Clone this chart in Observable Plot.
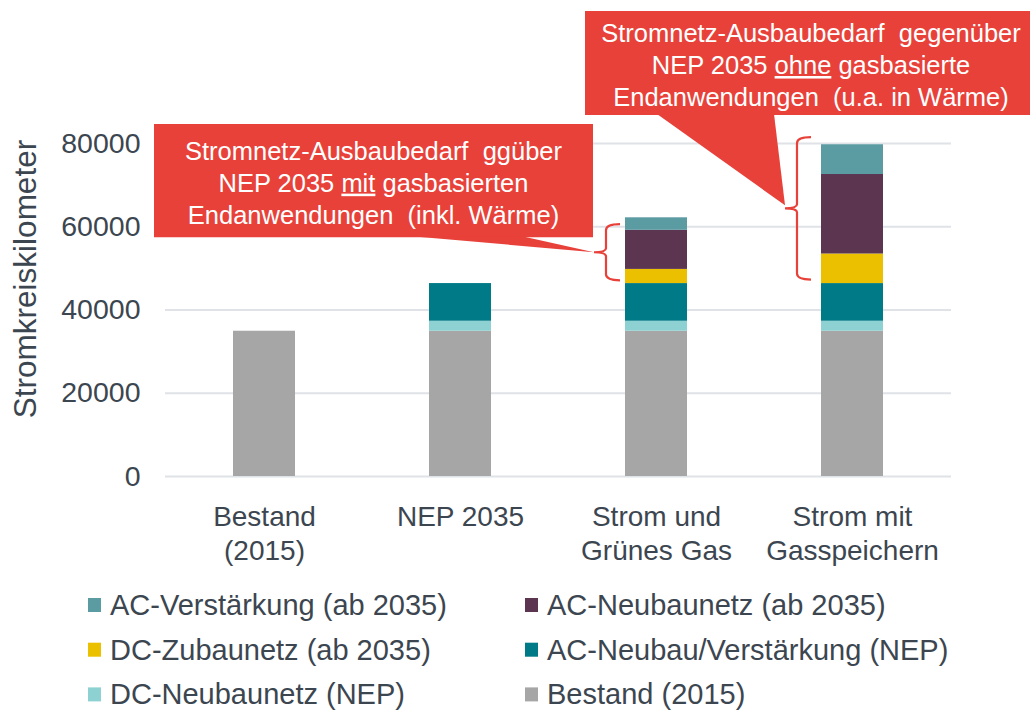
<!DOCTYPE html>
<html><head><meta charset="utf-8">
<script src="https://cdn.jsdelivr.net/npm/d3@7"></script>
<script src="https://cdn.jsdelivr.net/npm/@observablehq/plot@0.6"></script>
<style>
html,body{margin:0;padding:0;background:#fff;}
svg{display:block;}
</style></head><body><div id="chart"></div>
<script>
// ---- data ----
const categories = ["Bestand (2015)", "NEP 2035", "Strom und Grünes Gas", "Strom mit Gasspeichern"];
const categoryLabels = ["Bestand\n(2015)", "NEP 2035", "Strom und\nGrünes Gas", "Strom mit\nGasspeichern"];
const seriesNames = ["Bestand (2015)", "DC-Neubaunetz (NEP)", "AC-Neubau/Verstärkung (NEP)", "DC-Zubaunetz (ab 2035)", "AC-Neubaunetz (ab 2035)", "AC-Verstärkung (ab 2035)"];
const seriesColors = ["#a6a6a6", "#8dd1d2", "#007a86", "#ebc000", "#5c3551", "#5b9ba2"];
const bestand2015 = [34900, 34900, 34900, 34900];
const dcNeubaunetzNEP = [0, 2400, 2400, 2400];
const acNeubauVerstNEP = [0, 9050, 9050, 9050];
const dcZubaunetz2035 = [0, 0, 3400, 7100];
const acNeubaunetz2035 = [0, 0, 9400, 19100];
const acVerstaerkung2035 = [0, 0, 3000, 7150];
const seriesValues = [bestand2015, dcNeubaunetzNEP, acNeubauVerstNEP, dcZubaunetz2035, acNeubaunetz2035, acVerstaerkung2035];
const yTicks = [0, 20000, 40000, 60000, 80000];
const yLabel = "Stromkreiskilometer";
const legendOrder = ["AC-Verstärkung (ab 2035)", "AC-Neubaunetz (ab 2035)", "DC-Zubaunetz (ab 2035)", "AC-Neubau/Verstärkung (NEP)", "DC-Neubaunetz (NEP)", "Bestand (2015)"];
const braceCategories = ["Strom und Grünes Gas", "Strom mit Gasspeichern"];
const braceLow = [47000, 47200];
const braceHigh = [60500, 81400];
const callout1Lines = [
  [{t: "Stromnetz-Ausbaubedarf  ggüber"}],
  [{t: "NEP 2035 "}, {t: "mit", u: true}, {t: " gasbasierten"}],
  [{t: "Endanwendungen  (inkl. Wärme)"}]
];
const callout2Lines = [
  [{t: "Stromnetz-Ausbaubedarf  gegenüber"}],
  [{t: "NEP 2035 "}, {t: "ohne", u: true}, {t: " gasbasierte"}],
  [{t: "Endanwendungen  (u.a. in Wärme)"}]
];

const data = [];
categories.forEach((c, i) => seriesNames.forEach((s, j) => data.push({category: c, series: s, value: seriesValues[j][i]})));

const textColor = "#3c4650";
const red = "#e8413a";
const font = "'Liberation Sans', Arial, sans-serif";

function addLines(g, lines, cx, cy) {
  lines.forEach((segs, i) => {
    const t = g.append("text")
      .attr("x", cx).attr("y", cy + 11 + (i - 1) * 32)
      .attr("text-anchor", "middle")
      .attr("fill", "#fff")
      .attr("font-size", 25.5)
      .attr("font-family", font)
      .style("white-space", "pre");
    segs.forEach(s => {
      const ts = t.append("tspan").text(s.t);
      if (s.u) ts.attr("text-decoration", "underline");
    });
  });
}

function annotations(index, scales, values, dimensions) {
  const {x, y} = scales;
  const g = d3.create("svg:g");
  const offs = [19, 24];
  const tips = braceCategories.map((cat, i) => {
    const xv = x(cat) - offs[i];
    const yt = y(braceHigh[i]), yb = y(braceLow[i]), ym = (yt + yb) / 2;
    g.append("path")
      .attr("d", `M${xv + 14},${yt} Q${xv},${yt} ${xv},${yt + 6} L${xv},${ym - 4} Q${xv},${ym} ${xv - 12},${ym} Q${xv},${ym} ${xv},${ym + 4} L${xv},${yb - 6} Q${xv},${yb} ${xv + 14},${yb}`)
      .attr("fill", "none").attr("stroke", red).attr("stroke-width", 2.2);
    return {x: xv - 12, y: ym};
  });
  // callout 1
  const t1 = tips[0];
  const b1 = {x0: t1.x - 440, x1: t1.x - 1, y0: y(80000) - 19, y1: y(60000) + 11};
  g.append("rect").attr("x", b1.x0).attr("y", b1.y0).attr("width", b1.x1 - b1.x0).attr("height", b1.y1 - b1.y0).attr("fill", red);
  g.append("path").attr("d", `M${b1.x0 + 258},${b1.y1 - 1} L${b1.x0 + 368},${b1.y1 - 1} L${t1.x},${t1.y} Z`).attr("fill", red);
  addLines(g, callout1Lines, (b1.x0 + b1.x1) / 2, (b1.y0 + b1.y1) / 2);
  // callout 2
  const t2 = tips[1];
  const b2 = {x0: x(braceCategories[1]) - 236, x1: dimensions.width, y0: 11, y1: 115};
  g.append("rect").attr("x", b2.x0).attr("y", b2.y0).attr("width", b2.x1 - b2.x0).attr("height", b2.y1 - b2.y0).attr("fill", red);
  g.append("path").attr("d", `M${b2.x0 + 72},${b2.y1 - 1} L${b2.x0 + 189},${b2.y1 - 1} L${t2.x},${t2.y - 3} Z`).attr("fill", red);
  addLines(g, callout2Lines, b2.x0 + 226, (b2.y0 + b2.y1) / 2);
  return g.node();
}

const chart = Plot.plot({
  width: 1030, height: 575,
  marginTop: 143, marginBottom: 99, marginLeft: 165, marginRight: 79,
  style: {fontFamily: font, fontSize: "28px", color: textColor, background: "#fff"},
  x: {domain: categories, paddingInner: 0.685, paddingOuter: 0.3425, label: null},
  y: {domain: [0, 80000], label: null},
  color: {domain: seriesNames, range: seriesColors},
  marks: [
    Plot.gridY(yTicks, {stroke: "#dfe2e6", strokeOpacity: 1, strokeWidth: 2}),
    Plot.barY(data, {x: "category", y: "value", fill: "series", order: seriesNames}),
    Plot.axisY(yTicks, {tickSize: 0, tickPadding: 25, tickFormat: d => String(d), fontSize: 28.5, label: null, fill: textColor}),
    Plot.axisX({tickSize: 0, tickPadding: 26, tickFormat: d => categoryLabels[categories.indexOf(d)], fontSize: 28, lineHeight: 1.2, label: null, fill: textColor}),
    Plot.text([yLabel], {frameAnchor: "left", textAnchor: "middle", rotate: -90, dx: -140, dy: -31, fontSize: 31.5, fill: textColor}),
    annotations
  ]
});
document.getElementById("chart").appendChild(chart);

// legend
const colorOf = name => seriesColors[seriesNames.indexOf(name)];
const leg = d3.create("svg").attr("width", 1030).attr("height", 138).style("font-family", font);
legendOrder.forEach((name, i) => {
  const col = i % 2, row = Math.floor(i / 2);
  const sx = col === 0 ? 88 : 525;
  const base = 40 + row * 44.7;
  leg.append("rect").attr("x", sx).attr("y", base - 17).attr("width", 13).attr("height", 14).attr("fill", colorOf(name));
  leg.append("text").attr("x", sx + 22).attr("y", base)
    .attr("font-size", 29).attr("fill", textColor).text(name);
});
document.getElementById("chart").appendChild(leg.node());
</script>
</body></html>
